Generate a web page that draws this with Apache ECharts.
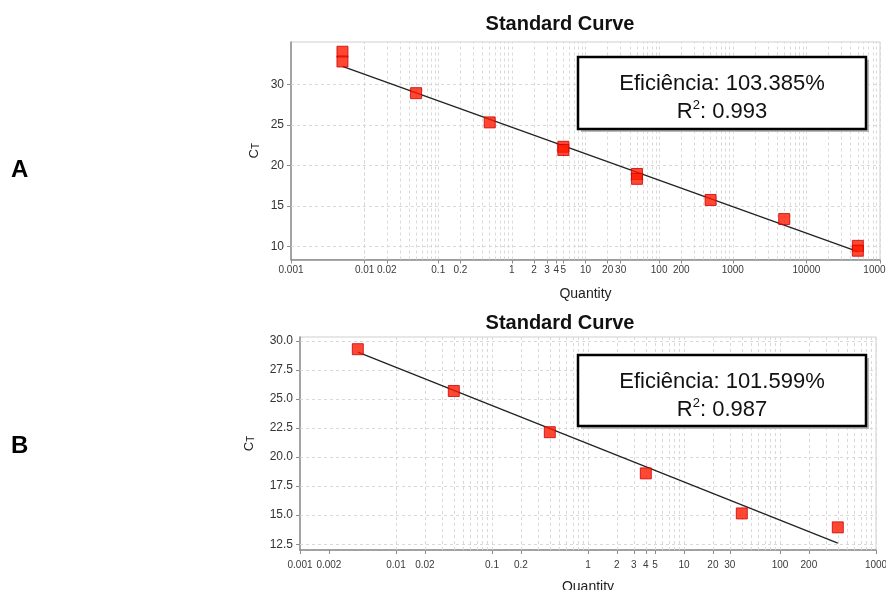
<!DOCTYPE html>
<html>
<head>
<meta charset="utf-8">
<script src="https://cdn.jsdelivr.net/npm/echarts@6/dist/echarts.min.js"></script>
<style>
html,body{margin:0;padding:0;background:#fff;}
#chart{width:886px;height:590px;}
</style>
</head>
<body>
<div id="chart"></div>
<script>
// ---- Data ----
// Chart A
const topQuantity = [0.005, 0.005, 0.05, 0.5, 5, 5, 50, 50, 500, 5000, 50000, 50000];
const topCt       = [34.0, 32.8, 28.9, 25.3, 22.3, 21.9, 18.95, 18.35, 15.75, 13.4, 10.1, 9.5];
const topFitQuantity = [0.005, 50000];
const topFitCt       = [32.2, 9.4];
const topEfficiency = 'Eficiência: 103.385%';
const topR2 = '0.993';
// Chart B
const bottomQuantity = [0.004, 0.04, 0.4, 4, 40, 400];
const bottomCt       = [29.3, 25.7, 22.15, 18.6, 15.15, 13.95];
const bottomFitQuantity = [0.004, 400];
const bottomFitCt       = [29.05, 12.6];
const bottomEfficiency = 'Eficiência: 101.599%';
const bottomR2 = '0.987';

// Tick labels
const topXTicks = [0.001, 0.01, 0.02, 0.1, 0.2, 1, 2, 3, 4, 5, 10, 20, 30, 100, 200, 1000, 10000, 100000];
const bottomXTicks = [0.001, 0.002, 0.01, 0.02, 0.1, 0.2, 1, 2, 3, 4, 5, 10, 20, 30, 100, 200, 1000];
const topYTicks = [10, 15, 20, 25, 30];
const bottomYTicks = [12.5, 15, 17.5, 20, 22.5, 25, 27.5, 30];
const titleText = 'Standard Curve';
const xName = 'Quantity';

// ---- helpers ----
function logGridValues(minExp, maxExp) {
  const vals = [];
  for (let e = minExp; e < maxExp; e++) {
    for (let m = 1; m <= 9; m++) vals.push(+(m * Math.pow(10, e)).toPrecision(6));
  }
  vals.push(+Math.pow(10, maxExp).toPrecision(6));
  return vals;
}
const topVGrid = logGridValues(-3, 5);
const bottomVGrid = logGridValues(-3, 3);

const pairs = (xs, ys) => xs.map((x, i) => [x, ys[i]]);
const fmtX = v => String(v);
const gridLineStyle = { color: '#d9d9d9', type: [3, 3], width: 1 };

function gridSeries(idx, vList, hList) {
  return {
    type: 'line', xAxisIndex: idx, yAxisIndex: idx, data: [], silent: true, z: 1,
    markLine: {
      silent: true, symbol: ['none', 'none'], animation: false, z: 1,
      label: { show: false }, emphasis: { disabled: true },
      lineStyle: gridLineStyle,
      data: vList.map(v => ({ xAxis: v })).concat(hList.map(v => ({ yAxis: v })))
    }
  };
}

const markerStyle = { color: '#ff1a00', borderColor: '#cc0000', borderWidth: 1 };
const axisLabelFont = { fontFamily: 'Liberation Sans Narrow, Liberation Sans, Arial', fontSize: 10, color: '#3a3a3a' };

function xAxisDef(idx, min, max, ticks, margin, nameGap) {
  return {
    type: 'log', logBase: 10, gridIndex: idx, min: min, max: max,
    name: xName, nameLocation: 'middle', nameGap: nameGap, nameMoveOverlap: false,
    nameTextStyle: { fontFamily: 'Liberation Sans, Arial', fontSize: 14, color: '#222' },
    axisLine: { show: true, lineStyle: { color: '#8c8c8c', width: 1.5 } },
    axisTick: { show: true, customValues: ticks, length: 4, lineStyle: { color: '#8c8c8c' } },
    axisLabel: Object.assign({ customValues: ticks, formatter: fmtX, margin: margin, hideOverlap: false, showMinLabel: true, showMaxLabel: true }, axisLabelFont),
    splitLine: { show: false }, minorTick: { show: false }
  };
}
function yAxisDef(idx, min, max, ticks, nameGap, fmt) {
  return {
    type: 'value', gridIndex: idx, min: min, max: max,
    name: '{c|C}{t|T}', nameLocation: 'middle', nameGap: nameGap, nameRotate: 90, nameMoveOverlap: false,
    nameTextStyle: { rich: {
      c: { fontFamily: 'Liberation Sans, Arial', fontSize: 13, color: '#222' },
      t: { fontFamily: 'Liberation Sans, Arial', fontSize: 10, color: '#222', verticalAlign: 'bottom' } } },
    axisLine: { show: true, lineStyle: { color: '#8c8c8c', width: 1.5 } },
    axisTick: { show: true, customValues: ticks, length: 4, lineStyle: { color: '#8c8c8c' } },
    axisLabel: { customValues: ticks, formatter: fmt, margin: 7, fontFamily: 'Liberation Sans, Arial', fontSize: 12, color: '#333' },
    splitLine: { show: false }
  };
}

function infoBox(x, y, w, h, line1, r2) {
  return [
    { type: 'rect', shape: { x: x + 3, y: y + 3, width: w, height: h }, style: { fill: '#b8b8b8' }, z: 10 },
    { type: 'rect', shape: { x: x, y: y, width: w, height: h }, style: { fill: '#fff', stroke: '#000', lineWidth: 2.5 }, z: 11 },
    { type: 'text', x: x + w / 2, y: y + 27, z: 12,
      style: { text: line1, fill: '#111', font: '22px "Liberation Sans", Arial', align: 'center', verticalAlign: 'middle' } },
    { type: 'text', x: x + w / 2, y: y + 55, z: 12,
      style: { text: '{n|R}{s|2}{n|: ' + r2 + '}', align: 'center', verticalAlign: 'middle',
        rich: { n: { font: '22px "Liberation Sans", Arial', fill: '#111', lineHeight: 26 },
                s: { font: '13px "Liberation Sans", Arial', fill: '#111', verticalAlign: 'top', lineHeight: 26 } } } }
  ];
}

const chart = echarts.init(document.getElementById('chart'), null, { renderer: 'canvas' });
chart.setOption({
  animation: false,
  backgroundColor: '#fff',
  title: [
    { text: titleText, left: 555, top: 9, textAlign: 'center',
      textStyle: { fontFamily: 'Liberation Sans, Arial', fontWeight: 'bold', fontSize: 20, color: '#111' } },
    { text: titleText, left: 555, top: 308, textAlign: 'center',
      textStyle: { fontFamily: 'Liberation Sans, Arial', fontWeight: 'bold', fontSize: 20, color: '#111' } }
  ],
  grid: [
    { left: 291, right: 6, top: 42, height: 217.5, show: true, borderColor: '#cfcfcf', borderWidth: 1, backgroundColor: '#fff', outerBoundsMode: 'none', containLabel: false },
    { left: 300, right: 10, top: 337, height: 213, show: true, borderColor: '#cfcfcf', borderWidth: 1, backgroundColor: '#fff', outerBoundsMode: 'none', containLabel: false }
  ],
  xAxis: [
    xAxisDef(0, 0.001, 100000, topXTicks, 6, 28),
    xAxisDef(1, 0.001, 1000, bottomXTicks, 10, 30)
  ],
  yAxis: [
    yAxisDef(0, 8.42, 35.2, topYTicks, 30, v => String(v)),
    yAxisDef(1, 12.0, 30.35, bottomYTicks, 44, v => v.toFixed(1))
  ],
  series: [
    gridSeries(0, topVGrid, topYTicks),
    gridSeries(1, bottomVGrid, bottomYTicks),
    { type: 'line', xAxisIndex: 0, yAxisIndex: 0, data: pairs(topFitQuantity, topFitCt), showSymbol: false, silent: true,
      lineStyle: { color: '#222', width: 1.3 }, z: 6 },
    { type: 'line', xAxisIndex: 1, yAxisIndex: 1, data: pairs(bottomFitQuantity, bottomFitCt), showSymbol: false, silent: true,
      lineStyle: { color: '#222', width: 1.3 }, z: 6 },
    { type: 'scatter', xAxisIndex: 0, yAxisIndex: 0, data: pairs(topQuantity, topCt), symbol: 'rect', symbolSize: 11,
      itemStyle: markerStyle, z: 7 },
    { type: 'scatter', xAxisIndex: 1, yAxisIndex: 1, data: pairs(bottomQuantity, bottomCt), symbol: 'rect', symbolSize: 11,
      itemStyle: markerStyle, z: 7 }
  ],
  graphic: [].concat(
    infoBox(578, 57, 288, 72, topEfficiency, topR2),
    infoBox(578, 355, 288, 71, bottomEfficiency, bottomR2),
    [
      { type: 'text', x: 11, y: 158, style: { text: 'A', font: 'bold 24px "Liberation Sans", Arial', fill: '#000' } },
      { type: 'text', x: 11, y: 434, style: { text: 'B', font: 'bold 24px "Liberation Sans", Arial', fill: '#000' } }
    ]
  )
});
</script>
</body>
</html>
